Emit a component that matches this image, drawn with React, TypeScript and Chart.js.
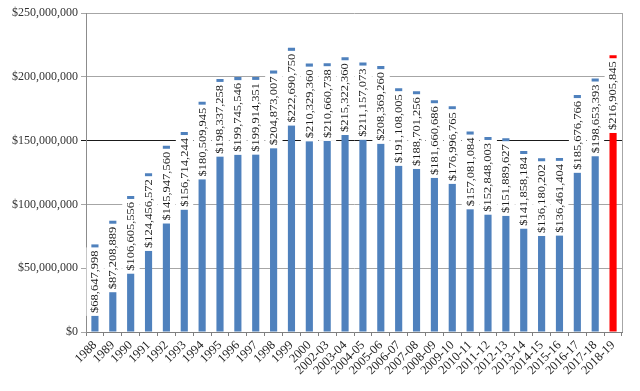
import React, { useEffect, useRef } from "react";
import { Chart, registerables } from "chart.js";

Chart.register(...registerables);

const categories = [
  "1988", "1989", "1990", "1991", "1992", "1993", "1994", "1995", "1996", "1997",
  "1998", "1999", "2000", "2002-03", "2003-04", "2004-05", "2005-06", "2006-07",
  "2007-08", "2008-09", "2009-10", "2010-11", "2011-12", "2012-13", "2013-14",
  "2014-15", "2015-16", "2016-17", "2017-18", "2018-19",
];

const totals = [
  68647998, 87208889, 106605556, 124456572, 145947560, 156714244, 180509945,
  198337258, 199745546, 199914351, 204873007, 222690750, 210329360, 210660738,
  215322360, 211157073, 208369260, 191108005, 188701256, 181660686, 176996765,
  157081084, 152848003, 151889627, 141858184, 136180202, 136461404, 185676766,
  198653393, 216905845,
];

const yTicks = [0, 50000000, 100000000, 150000000, 200000000, 250000000];

const fmt = (v: number) => "$" + v.toLocaleString("en-US");

const BLUE = "#4f81bd";
const RED = "#ff0000";
const SERIF = '"Liberation Serif", "Times New Roman", serif';

export default function App() {
  const ref = useRef<HTMLCanvasElement | null>(null);

  useEffect(() => {
    if (!ref.current) return;

    const borderPlugin = {
      id: "rightBorder",
      beforeDatasetsDraw(chart: any) {
        const { ctx, chartArea } = chart;
        ctx.save();
        ctx.strokeStyle = "#a6a6a6";
        ctx.lineWidth = 1;
        ctx.beginPath();
        ctx.moveTo(Math.round(chartArea.right) + 0.5, chartArea.top);
        ctx.lineTo(Math.round(chartArea.right) + 0.5, chartArea.bottom);
        ctx.stroke();
        ctx.restore();
      },
    };

    const labelPlugin = {
      id: "boxLabels",
      afterDatasetsDraw(chart: any) {
        const ctx = chart.ctx;
        const meta = chart.getDatasetMeta(0);
        const xScale = chart.scales.x;
        const catW = xScale.width / categories.length;
        ctx.save();
        ctx.font = `12.5px ${SERIF}`;
        meta.data.forEach((bar: any, i: number) => {
          const text = fmt(totals[i]);
          const tw = ctx.measureText(text).width;
          const top = bar.y + 3;
          const h = tw + 6;
          ctx.fillStyle = "#ffffff";
          ctx.fillRect(bar.x - catW / 2 + 0.5, top, catW - 0.5, h);
          ctx.save();
          ctx.translate(bar.x + 0.5, top + h - 3);
          ctx.rotate(-Math.PI / 2);
          ctx.scale(1, 0.88);
          ctx.textAlign = "left";
          ctx.textBaseline = "middle";
          ctx.fillStyle = "#1e1e1e";
          ctx.fillText(text, 0, 0);
          ctx.restore();
        });
        ctx.restore();
      },
    };

    const chart = new Chart(ref.current, {
      type: "bar",
      data: {
        labels: categories,
        datasets: [
          {
            data: totals,
            backgroundColor: categories.map((_, i) => (i === categories.length - 1 ? RED : BLUE)),
            barPercentage: 0.4,
            categoryPercentage: 1,
            borderWidth: 0,
          },
        ],
      },
      options: {
        animation: false,
        responsive: false,
        maintainAspectRatio: false,
        layout: { padding: { top: 13, right: 18, left: 0, bottom: 0 } },
        plugins: {
          legend: { display: false },
          tooltip: { enabled: false },
        },
        scales: {
          x: {
            grid: {
              display: true,
              drawOnChartArea: false,
              tickLength: 4,
              color: "#808080",
              offset: true,
            },
            border: { color: "#7f7f7f" },
            ticks: {
              autoSkip: false,
              minRotation: 45,
              maxRotation: 45,
              color: "#222",
              padding: 2,
              font: { family: SERIF, size: 12.5 },
            },
            afterFit: (scale: any) => {
              scale.height = 59;
            },
          },
          y: {
            min: 0,
            max: 250000000,
            afterBuildTicks: (scale: any) => {
              scale.ticks = yTicks.map((v) => ({ value: v }));
            },
            grid: {
              color: (c: any) => (c.tick && c.tick.value === 150000000 ? "#1a1a1a" : "#a6a6a6"),
              tickLength: 5,
            },
            border: { color: "#8c8c8c" },
            ticks: {
              color: "#333",
              padding: 3,
              font: { family: SERIF, size: 12 },
              callback: (v: any) => fmt(Number(v)),
            },
            afterFit: (scale: any) => {
              scale.width = 86;
            },
          },
        },
      },
      plugins: [borderPlugin, labelPlugin],
    });

    return () => chart.destroy();
  }, []);

  return (
    <div style={{ position: "fixed", left: 0, top: 0, width: 640, height: 391, background: "#fff" }}>
      <canvas ref={ref} width={640} height={391} style={{ display: "block", width: 640, height: 391 }} />
    </div>
  );
}
